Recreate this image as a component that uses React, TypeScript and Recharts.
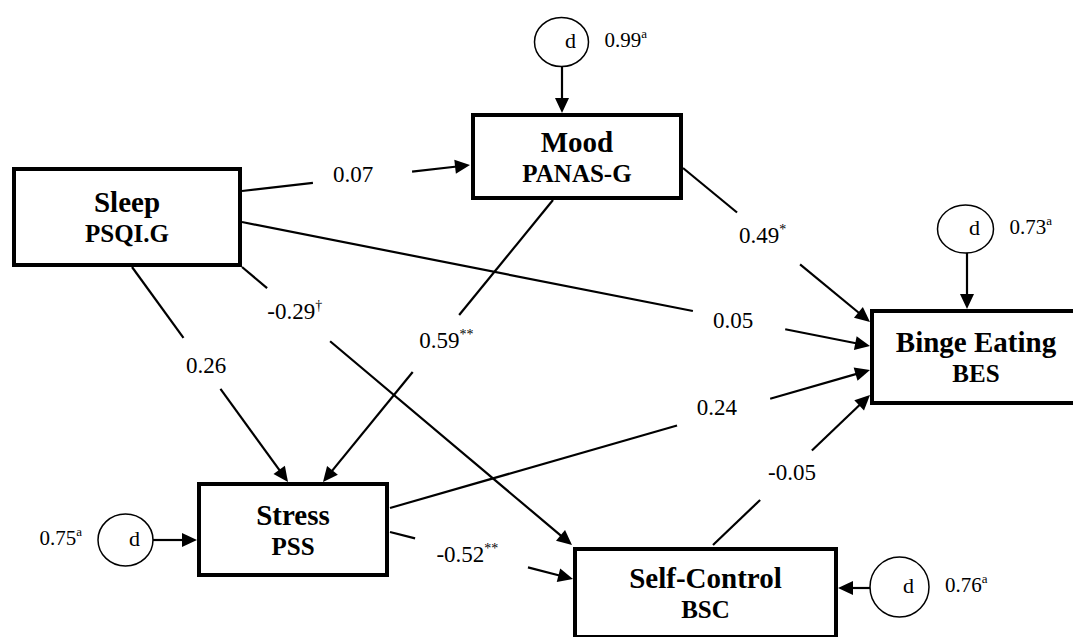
import React from "react";
import { ScatterChart, Scatter, XAxis, YAxis, ReferenceLine } from "recharts";

const WIDTH = 1073;
const HEIGHT = 637;
const SERIF = { fontFamily: "'Liberation Serif', 'Times New Roman', Times, serif" };

// observed variables (box centres, in canvas units)
const nodeIds = ["sleep", "mood", "binge", "stress", "control"];
const nodeNames = ["Sleep", "Mood", "Binge Eating", "Stress", "Self-Control"];
const nodeScales = ["PSQI.G", "PANAS-G", "BES", "PSS", "BSC"];
const nodeX = [127, 577, 976, 293, 705.5];
const nodeY = [217, 156.5, 357, 529.5, 593];

// disturbance terms
const dTargets = ["mood", "binge", "stress", "control"];
const dValues = ["0.99", "0.73", "0.75", "0.76"];
const dX = [561.5, 965.5, 125.5, 899.5];
const dY = [42, 229, 540, 587];
const dArrowFrom = [[562, 66.5], [967, 253], [153, 540], [870, 588]];
const dArrowTo = [[562, 113], [967, 309], [197, 540], [838, 588]];

// structural paths
const pathFrom = ["sleep", "sleep", "sleep", "sleep", "mood", "mood", "stress", "stress", "control"];
const pathTo = ["mood", "binge", "stress", "control", "stress", "binge", "binge", "control", "binge"];
const pathCoef = ["0.07", "0.05", "0.26", "-0.29", "0.59", "0.49", "0.24", "-0.52", "-0.05"];
const pathSig = ["", "", "", "†", "**", "*", "", "**", ""];
const pathStart = [[242, 191], [242, 222], [132, 267], [242, 267], [553, 200], [683, 168], [390, 508], [390, 532], [713, 545]];
const pathEnd = [[470, 165], [870, 346], [288, 482], [572, 545], [323, 482], [870, 322], [870, 370], [573, 579], [870, 395]];

// where each coefficient sits along its path, and the break in the line around it
const labelAt = [0.487, 0.782, 0.456, 0.16, 0.498, 0.42, 0.681, 0.423, 0.503];
const labelNudge = [[0, -4], [0, 1.5], [3, 0], [0, 0], [8, 0], [1, 3], [0, -6.5], [0, 3], [0, 3]];
const gapFrom = [0.311, 0.718, 0.33, 0.076, 0.408, 0.289, 0.598, 0.137, 0.3];
const gapTo = [0.746, 0.865, 0.567, 0.267, 0.61, 0.626, 0.792, 0.754, 0.63];

const boxSize: Record<string, [number, number]> = {
  sleep: [226, 96],
  mood: [208, 83],
  binge: [208, 92],
  stress: [188, 91],
  control: [261, 88],
};
const dRadius: Record<string, [number, number]> = {
  mood: [27, 24.5],
  binge: [28, 24],
  stress: [27.5, 26],
  control: [29.5, 30],
};

const nodes = nodeIds.map((id, i) => ({
  id,
  x: nodeX[i],
  y: nodeY[i],
  name: nodeNames[i],
  scale: nodeScales[i],
}));

const disturbances = dTargets.map((id, i) => ({
  id,
  x: dX[i],
  y: dY[i],
  value: dValues[i],
}));

const BoxShape = (props: any) => {
  const { cx, cy, payload } = props;
  const [w, h] = boxSize[payload.id];
  return (
    <g>
      <rect x={cx - w / 2} y={cy - h / 2} width={w} height={h} fill="#fff" stroke="#000" strokeWidth={4} />
      <text x={cx} y={cy - 5} textAnchor="middle" style={SERIF} fontWeight="bold" fontSize={29} fill="#000">
        {payload.name}
      </text>
      <text x={cx} y={cy + 25} textAnchor="middle" style={SERIF} fontWeight="bold" fontSize={25} fill="#000">
        {payload.scale}
      </text>
    </g>
  );
};

const DisturbanceShape = (props: any) => {
  const { cx, cy, payload } = props;
  const [rx, ry] = dRadius[payload.id];
  const left = payload.id === "stress";
  return (
    <g>
      <ellipse cx={cx} cy={cy} rx={rx} ry={ry} fill="#fff" stroke="#000" strokeWidth={1.5} />
      <text x={cx + 9} y={cy + 6} textAnchor="middle" style={SERIF} fontSize={22} fill="#000">
        d
      </text>
      <text
        x={left ? cx - rx - 16 : cx + rx + 16}
        y={cy + 5}
        textAnchor={left ? "end" : "start"}
        style={SERIF}
        fontSize={21}
        fill="#000"
      >
        {payload.value}
        <tspan fontSize={13} dy={-9}>
          a
        </tspan>
      </text>
    </g>
  );
};

const PathShape = (props: any) => {
  const { x1, y1, x2, y2, i, plain } = props;
  const dx = x2 - x1;
  const dy = y2 - y1;
  const len = Math.hypot(dx, dy);
  const ux = dx / len;
  const uy = dy / len;
  const headLen = 15;
  const headHalf = 7;
  const bx = x2 - ux * headLen;
  const by = y2 - uy * headLen;
  const stop = 1 - (headLen - 2) / len;
  const at = (t: number) => [x1 + dx * t, y1 + dy * t];
  const pieces = plain ? [[0, stop]] : [[0, gapFrom[i]], [gapTo[i], stop]];
  const head = `${x2},${y2} ${bx - uy * headHalf},${by + ux * headHalf} ${bx + uy * headHalf},${by - ux * headHalf}`;
  let label = null;
  if (!plain) {
    const [lx, ly] = at(labelAt[i]);
    label = (
      <text
        x={lx + labelNudge[i][0]}
        y={ly + labelNudge[i][1] + 7.6}
        textAnchor="middle"
        style={SERIF}
        fontSize={23}
        fill="#000"
      >
        {pathCoef[i]}
        {pathSig[i] ? (
          <tspan fontSize={14} dy={-9}>
            {pathSig[i]}
          </tspan>
        ) : null}
      </text>
    );
  }
  return (
    <g>
      {pieces.map(([a, b], k) => {
        const [ax, ay] = at(a);
        const [bbx, bby] = at(b);
        return <line key={k} x1={ax} y1={ay} x2={bbx} y2={bby} stroke="#000" strokeWidth={2.2} />;
      })}
      <polygon points={head} fill="#000" />
      {label}
    </g>
  );
};

export default function App() {
  return (
    <div style={{ position: "absolute", left: 0, top: 0, width: WIDTH, height: HEIGHT, background: "#fff" }}>
      <ScatterChart width={WIDTH} height={HEIGHT} margin={{ top: 0, right: 0, bottom: 0, left: 0 }}>
        <XAxis type="number" dataKey="x" domain={[0, WIDTH]} allowDataOverflow hide />
        <YAxis type="number" dataKey="y" domain={[0, HEIGHT]} allowDataOverflow reversed hide />

        {pathFrom.map((from, i) => (
          <ReferenceLine
            key={`${from}-${pathTo[i]}`}
            segment={[
              { x: pathStart[i][0], y: pathStart[i][1] },
              { x: pathEnd[i][0], y: pathEnd[i][1] },
            ]}
            shape={(p: any) => <PathShape {...p} i={i} />}
          />
        ))}

        {dTargets.map((id, i) => (
          <ReferenceLine
            key={`d-${id}`}
            segment={[
              { x: dArrowFrom[i][0], y: dArrowFrom[i][1] },
              { x: dArrowTo[i][0], y: dArrowTo[i][1] },
            ]}
            shape={(p: any) => <PathShape {...p} i={i} plain />}
          />
        ))}

        <Scatter data={nodes} shape={BoxShape} isAnimationActive={false} />
        <Scatter data={disturbances} shape={DisturbanceShape} isAnimationActive={false} />
      </ScatterChart>
    </div>
  );
}
